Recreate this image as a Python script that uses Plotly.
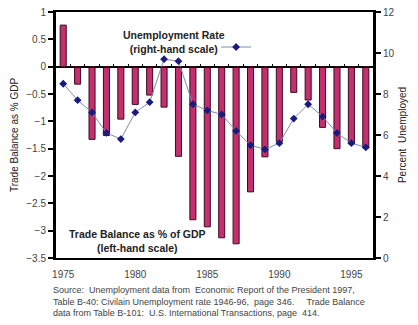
import plotly.graph_objects as go

years = list(range(1975, 1997))
trade_balance = [0.76, -0.32, -1.33, -1.26, -0.96, -0.69, -0.52, -0.74, -1.64, -2.8,
                 -2.93, -3.13, -3.24, -2.29, -1.65, -1.37, -0.47, -0.61, -1.11, -1.5,
                 -1.41, -1.49]
unemployment = [8.5, 7.7, 7.1, 6.1, 5.8, 7.1, 7.6, 9.7, 9.6, 7.5,
                7.2, 7.0, 6.2, 5.5, 5.3, 5.6, 6.8, 7.5, 6.9, 6.1,
                5.6, 5.4]
left_ticks = [1, 0.5, 0, -0.5, -1, -1.5, -2, -2.5, -3, -3.5]
year_ticks = [1975, 1980, 1985, 1990, 1995]
boundaries = [y - 0.5 for y in years] + [years[-1] + 0.5]

FONT = "Liberation Sans, Arial, sans-serif"

fig = go.Figure()
fig.add_trace(go.Bar(
    x=years, y=trade_balance, xaxis="x", yaxis="y",
    marker=dict(color="#C4306E", line=dict(color="#3A0A20", width=1)),
    showlegend=False,
))
# invisible helper so the zero-line category axis (x2) gets drawn
fig.add_trace(go.Scatter(
    x=years, y=trade_balance, xaxis="x2", yaxis="y",
    mode="markers", marker=dict(opacity=0), hoverinfo="skip", showlegend=False,
))
fig.add_trace(go.Scatter(
    x=years, y=unemployment, xaxis="x", yaxis="y2",
    mode="lines+markers", name="",
    line=dict(color="#7F8CB0", width=1),
    marker=dict(symbol="diamond", size=6, color="#1A1A80"),
    showlegend=True,
))

rng = [1974.5, 1996.5]
fig.update_layout(
    width=418, height=325,
    margin=dict(l=56, r=45, t=12, b=67, autoexpand=False),
    paper_bgcolor="white", plot_bgcolor="white",
    font=dict(family=FONT, size=10, color="#333"),
    bargap=0.58,
    xaxis=dict(range=rng, tickvals=year_ticks, showgrid=False, zeroline=False,
               showline=True, linecolor="black", linewidth=2, mirror=True,
               ticks="", ticklabelstandoff=6, automargin=False,
               tickfont=dict(size=10, color="#444")),
    xaxis2=dict(range=rng, overlaying="x", anchor="free", position=3.5 / 4.5,
                showgrid=False, zeroline=False, automargin=False,
                showline=True, linecolor="black", linewidth=1,
                ticks="inside", ticklen=3, tickcolor="black",
                tickvals=boundaries, showticklabels=False),
    yaxis=dict(range=[-3.5, 1], tickvals=left_ticks, showgrid=False,
               zeroline=True, zerolinecolor="black", zerolinewidth=1,
               showline=True, linecolor="black", linewidth=3, automargin=False,
               ticks="outside", ticklen=5, tickwidth=2, tickcolor="black",
               tickfont=dict(size=10, color="#444"),
               title=dict(text="Trade Balance as % GDP", font=dict(size=10, color="#222"), standoff=6)),
    yaxis2=dict(range=[0, 12], dtick=2, overlaying="y", side="right", anchor="x",
                showgrid=False, zeroline=False, automargin=False,
                showline=True, linecolor="black", linewidth=3,
                ticks="outside", ticklen=5, tickwidth=2, tickcolor="black",
                tickfont=dict(size=10, color="#444"),
                title=dict(text="Percent  Unemployed", font=dict(size=10, color="#222"), standoff=6)),
    legend=dict(x=0.505, y=(258 - 47) / 246, xanchor="left", yanchor="middle",
                bgcolor="rgba(0,0,0,0)", itemwidth=30, font=dict(size=2)),
    annotations=[
        dict(text="<b>Unemployment Rate<br>(right-hand scale)</b>", xref="paper", yref="paper",
             x=(174 - 56) / 317, y=(258 - 42) / 246, xanchor="center", yanchor="middle",
             showarrow=False, font=dict(size=10.5, color="#222"), align="center"),
        dict(text="<b>Trade Balance as % of GDP<br>(left-hand scale)</b>", xref="paper", yref="paper",
             x=(137 - 56) / 317, y=(258 - 241) / 246, xanchor="center", yanchor="middle",
             showarrow=False, font=dict(size=10.5, color="#222"), align="center"),
        dict(text="Source:  Unemployment data from  Economic Report of the President 1997,<br>"
                  "Table B-40: Civilain Unemployment rate 1946-96,  page 346.     Trade Balance<br>"
                  "data from Table B-101:  U.S. International Transactions, page  414.",
             xref="paper", yref="paper", x=-0.015, y=(258 - 283) / 246, xanchor="left", yanchor="top",
             showarrow=False, align="left", font=dict(size=9, color="#444")),
    ],
)

fig.write_html("out.html")
